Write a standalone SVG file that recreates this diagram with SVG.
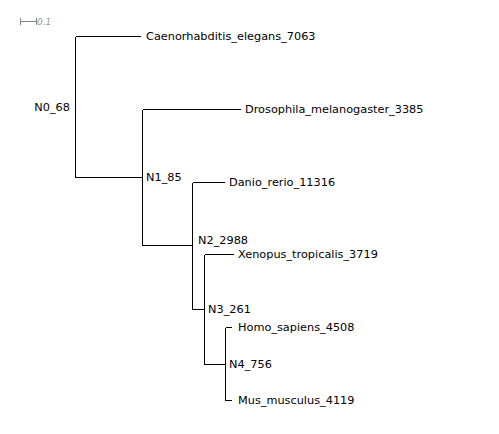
<svg xmlns="http://www.w3.org/2000/svg" width="499" height="434" viewBox="0 0 499 434">
<style>
.bg{fill:#ffffff}
.br{stroke:#000;stroke-width:1;fill:none;shape-rendering:crispEdges}
.lbl{font-family:"DejaVu Sans",Verdana,sans-serif;font-size:11.3px;fill:#000;dominant-baseline:central}
.scale{stroke:#888;stroke-width:1;fill:none;shape-rendering:crispEdges}
.scalet{font-family:"DejaVu Sans",sans-serif;font-size:9px;font-style:italic;fill:#999}
</style>
<rect class="bg" x="0" y="0" width="499" height="434"/>
<g id="scalebar">
<path class="scale" d="M20.5,21.5 H36.5 M20.5,18 V25 M36.5,18 V25"/>
<text class="scalet" x="37" y="25">0.1</text>
</g>
<g id="connectors">
<path class="br" d="M75.5,36.5 V177.5 M75.5,36.5 H141 M75.5,177.5 H142.5"/>
<path class="br" d="M142.5,109.5 V245.5 M142.5,109.5 H241 M142.5,245.5 H192.5"/>
<path class="br" d="M192.5,182.5 V309.5 M192.5,182.5 H225 M192.5,309.5 H204.5"/>
<path class="br" d="M204.5,254.5 V364.5 M204.5,254.5 H234 M204.5,364.5 H225.5"/>
<path class="br" d="M225.5,327.5 V400.5 M225.5,327.5 H232 M225.5,400.5 H232"/>
</g>
<g id="N0_68"><text class="lbl" x="70" y="107" text-anchor="end">N0_68</text></g>
<g id="Caenorhabditis_elegans_7063"><text class="lbl" x="146" y="36.5">Caenorhabditis_elegans_7063</text></g>
<g id="N1_85"><text class="lbl" x="146" y="177.5">N1_85</text></g>
<g id="Drosophila_melanogaster_3385"><text class="lbl" x="245" y="109.5">Drosophila_melanogaster_3385</text></g>
<g id="N2_2988"><text class="lbl" x="198" y="240">N2_2988</text></g>
<g id="Danio_rerio_11316"><text class="lbl" x="229" y="182.5">Danio_rerio_11316</text></g>
<g id="N3_261"><text class="lbl" x="208" y="309.5">N3_261</text></g>
<g id="Xenopus_tropicalis_3719"><text class="lbl" x="238" y="254.5">Xenopus_tropicalis_3719</text></g>
<g id="N4_756"><text class="lbl" x="229" y="364.5">N4_756</text></g>
<g id="Homo_sapiens_4508"><text class="lbl" x="238" y="327.5">Homo_sapiens_4508</text></g>
<g id="Mus_musculus_4119"><text class="lbl" x="238" y="400.5">Mus_musculus_4119</text></g>
</svg>
